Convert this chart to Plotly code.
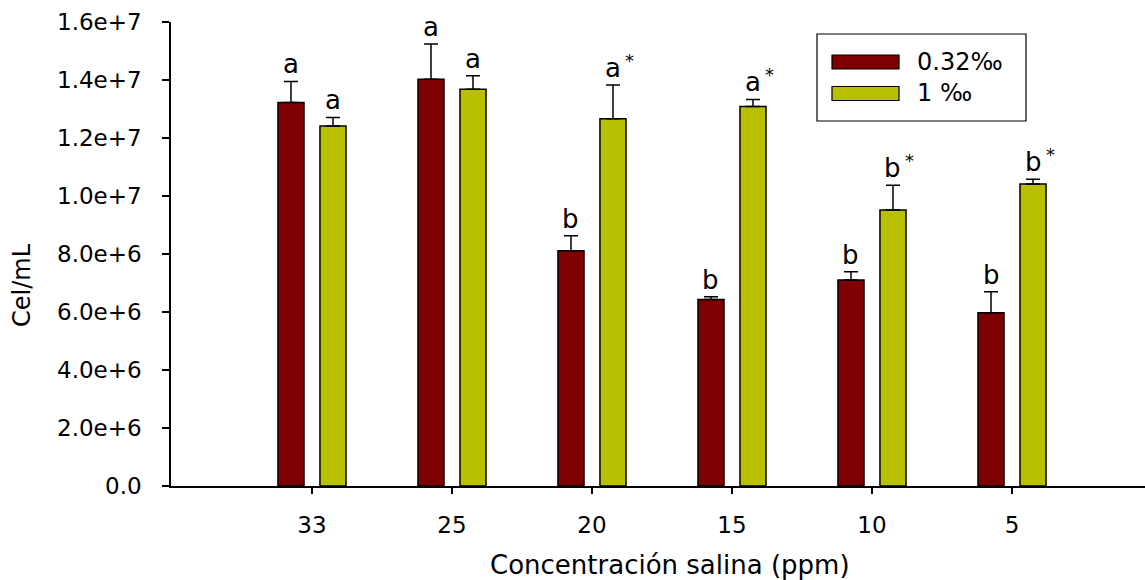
import plotly.graph_objects as go

categories = ["33", "25", "20", "15", "10", "5"]
series_names = ["0.32‰", "1 ‰"]
vals_032 = [13.22e6, 14.03e6, 8.11e6, 6.43e6, 7.10e6, 5.97e6]
err_032 = [0.73e6, 1.21e6, 0.52e6, 0.10e6, 0.29e6, 0.73e6]
vals_1 = [12.41e6, 13.68e6, 12.66e6, 13.09e6, 9.52e6, 10.41e6]
err_1 = [0.30e6, 0.47e6, 1.17e6, 0.24e6, 0.85e6, 0.17e6]
letters_032 = ["a", "a", "b", "b", "b", "b"]
letters_1 = ["a", "a", "a", "a", "b", "b"]
star_1 = [False, False, True, True, True, True]
ytickvals = [0, 2e6, 4e6, 6e6, 8e6, 10e6, 12e6, 14e6, 16e6]
yticktext = ["0.0", "2.0e+6", "4.0e+6", "6.0e+6", "8.0e+6", "1.0e+7", "1.2e+7", "1.4e+7", "1.6e+7"]

RED = "#7f0000"
YEL = "#b9c000"
FONT = "DejaVu Sans"

W, H = 1145, 580
ML, MR, MT, MB = 171, 0, 22, 94
PW, PH = W - ML - MR, H - MT - MB


def px_x(p):
    return (p - ML) / PW


def px_y(p):
    return (H - MB - p) / PH


bw = 0.186
fig = go.Figure()
for vals, errs, col, off in [(vals_032, err_032, RED, -0.243), (vals_1, err_1, YEL, 0.057)]:
    fig.add_trace(go.Bar(
        x=categories, y=vals, width=bw, offset=off,
        marker=dict(color=col, line=dict(color="black", width=1.5)),
        error_y=dict(type="data", array=errs, arrayminus=[0] * len(errs), symmetric=False,
                     color="black", thickness=1.5, width=7),
        showlegend=False,
    ))

annots = []
for i in range(len(categories)):
    for vals, errs, labs, off, stars in [(vals_032, err_032, letters_032, -0.243, None),
                                          (vals_1, err_1, letters_1, 0.057, star_1)]:
        xc = i + off + bw / 2
        top = vals[i] + errs[i]
        annots.append(dict(x=xc, y=top, xref="x", yref="y", text=labs[i], showarrow=False,
                           yanchor="bottom", xanchor="center", yshift=0,
                           font=dict(family=FONT, size=26, color="black")))
        if stars is not None and stars[i]:
            annots.append(dict(x=xc, y=top, xref="x", yref="y", text="*", showarrow=False,
                               yanchor="bottom", xanchor="center", xshift=17, yshift=12,
                               font=dict(family=FONT, size=18, color="black")))

# axis titles
annots.append(dict(x=px_x(670), y=px_y(565), xref="paper", yref="paper", text="Concentración salina (ppm)",
                   showarrow=False, xanchor="center", yanchor="middle",
                   font=dict(family=FONT, size=26, color="black")))
annots.append(dict(x=px_x(22), y=px_y(285), xref="paper", yref="paper", text="Cel/mL", textangle=-90,
                   showarrow=False, xanchor="center", yanchor="middle",
                   font=dict(family=FONT, size=24, color="black")))

# legend (drawn manually)
shapes = [dict(type="rect", xref="paper", yref="paper", x0=px_x(817), x1=px_x(1026),
               y0=px_y(121), y1=px_y(34), line=dict(color="black", width=1.2), fillcolor="white")]
for j, (name, col, yc) in enumerate([(series_names[0], RED, 62), (series_names[1], YEL, 93.5)]):
    shapes.append(dict(type="rect", xref="paper", yref="paper", x0=px_x(832), x1=px_x(899),
                       y0=px_y(yc + 7), y1=px_y(yc - 7), line=dict(color="black", width=1.2), fillcolor=col))
    annots.append(dict(x=px_x(915), y=px_y(yc), xref="paper", yref="paper", text=name, showarrow=False,
                       xanchor="left", yanchor="middle", font=dict(family=FONT, size=24, color="black")))

fig.update_layout(
    width=W, height=H, margin=dict(l=ML, r=MR, t=MT, b=MB),
    paper_bgcolor="white", plot_bgcolor="white",
    barmode="overlay", showlegend=False,
    annotations=annots, shapes=shapes,
    font=dict(family=FONT, size=23, color="black"),
)
fig.update_xaxes(type="category", range=[-1.007, 5.95], showline=True, linecolor="black", linewidth=1.5,
                 ticks="outside", ticklen=6, tickwidth=1.5, tickcolor="black", showgrid=False,
                 tickfont=dict(family=FONT, size=23), ticklabelstandoff=12)
fig.update_yaxes(range=[0, 1.6e7], tickvals=ytickvals, ticktext=yticktext, showline=True, linecolor="black",
                 linewidth=1.5, ticks="outside", ticklen=7, tickwidth=1.5, tickcolor="black", showgrid=False,
                 zeroline=False, tickfont=dict(family=FONT, size=23), ticklabelstandoff=16)

fig.write_html("out.html")
